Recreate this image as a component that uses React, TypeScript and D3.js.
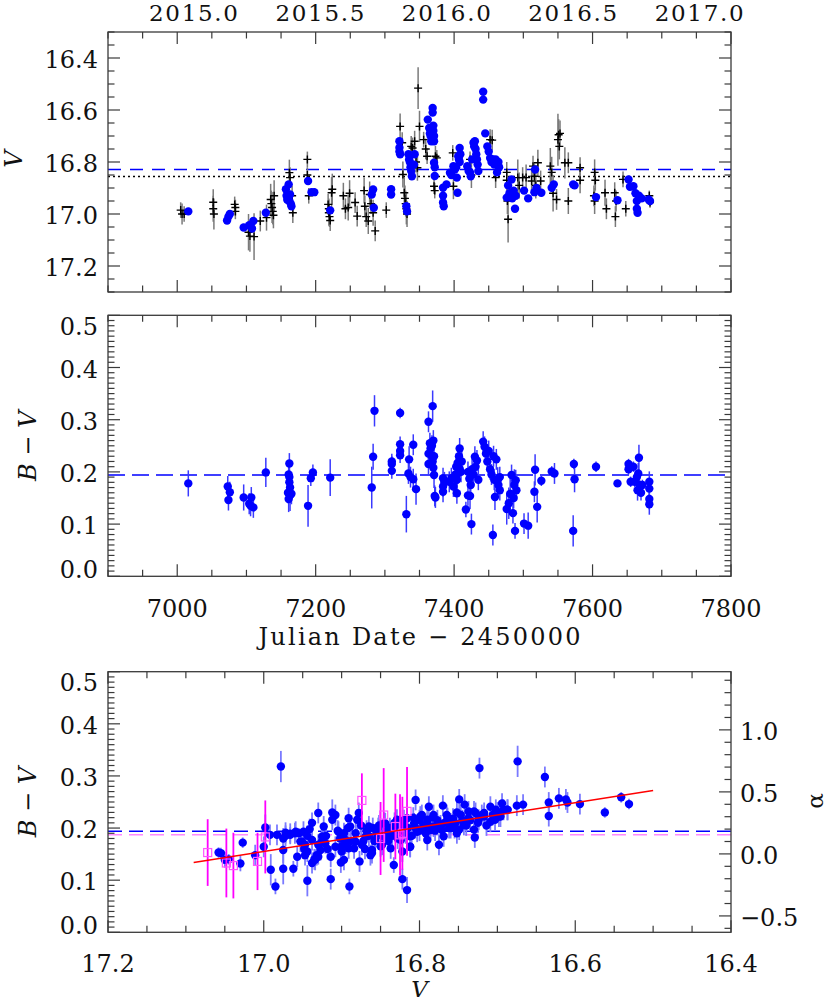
import React from "react";
import * as d3 from "d3";

// ---------------- data ----------------
// ground-based V photometry: [JD-2450000, V, err]
const groundV: [number, number, number][] = [
  [7005, 16.985, 0.03], [7007, 17.0, 0.04], [7010, 17.0, 0.03],
  [7052, 16.955, 0.05], [7052, 16.98, 0.05], [7053, 17.0, 0.06],
  [7083, 16.963, 0.03], [7084, 16.975, 0.03], [7084, 16.99, 0.03],
  [7103, 17.07, 0.07], [7105, 17.085, 0.06], [7111, 17.087, 0.09],
  [7120, 17.027, 0.04], [7129, 17.014, 0.05], [7135, 16.944, 0.06],
  [7136, 16.96, 0.05], [7137, 16.975, 0.06], [7138, 16.99, 0.05],
  [7139, 17.005, 0.05], [7140, 16.93, 0.06], [7162, 16.841, 0.05],
  [7163, 16.86, 0.04], [7166, 16.93, 0.04], [7167, 16.995, 0.04],
  [7188, 16.79, 0.03], [7188, 16.85, 0.03], [7190, 16.93, 0.03],
  [7218, 16.963, 0.04], [7219, 16.98, 0.04], [7219, 16.995, 0.05],
  [7220, 17.01, 0.04], [7221, 17.025, 0.04], [7223, 16.918, 0.06],
  [7224, 16.905, 0.06], [7240, 16.93, 0.05], [7243, 16.98, 0.04],
  [7247, 16.975, 0.05], [7249, 16.92, 0.05], [7257, 16.956, 0.04],
  [7260, 17.008, 0.04], [7270, 16.91, 0.05], [7271, 16.97, 0.04],
  [7273, 17.01, 0.04], [7276, 17.027, 0.05], [7278, 16.925, 0.05],
  [7280, 16.96, 0.04], [7283, 16.995, 0.05], [7286, 17.065, 0.04],
  [7302, 16.985, 0.03], [7322, 16.663, 0.05], [7325, 16.726, 0.04],
  [7326, 16.848, 0.05], [7328, 16.918, 0.06], [7329, 16.94, 0.05],
  [7330, 16.96, 0.05], [7331, 16.98, 0.06], [7332, 17.0, 0.05],
  [7338, 16.74, 0.04], [7340, 16.746, 0.04], [7343, 16.72, 0.04],
  [7345, 16.8, 0.04], [7347, 16.822, 0.05], [7348, 16.516, 0.08],
  [7350, 16.663, 0.06], [7356, 16.714, 0.03], [7359, 16.75, 0.04],
  [7361, 16.778, 0.03], [7371, 16.893, 0.03], [7372, 16.91, 0.03],
  [7373, 16.778, 0.04], [7375, 16.784, 0.03], [7398, 16.765, 0.03],
  [7399, 16.893, 0.05], [7423, 16.79, 0.03], [7425, 16.85, 0.05],
  [7452, 16.714, 0.04], [7455, 16.716, 0.04], [7460, 16.86, 0.04],
  [7476, 16.84, 0.04], [7476, 16.87, 0.04], [7477, 16.95, 0.05],
  [7478, 17.02, 0.09], [7492, 16.86, 0.07], [7494, 16.89, 0.05],
  [7499, 16.86, 0.04], [7504, 16.86, 0.05], [7512, 16.873, 0.05],
  [7514, 16.816, 0.04], [7516, 16.855, 0.05], [7518, 16.89, 0.05],
  [7521, 16.803, 0.05], [7525, 16.873, 0.04], [7539, 16.816, 0.07],
  [7541, 16.84, 0.06], [7543, 16.92, 0.07], [7548, 16.944, 0.04],
  [7550, 16.714, 0.1], [7551, 16.695, 0.06], [7552, 16.74, 0.05],
  [7553, 16.69, 0.05], [7560, 16.803, 0.06], [7565, 16.803, 0.04],
  [7565, 16.95, 0.05], [7582, 16.822, 0.04], [7582, 16.87, 0.05],
  [7603, 16.84, 0.05], [7604, 16.87, 0.04], [7602, 16.93, 0.04],
  [7603, 16.95, 0.05], [7618, 16.918, 0.05], [7620, 16.98, 0.04],
  [7632, 16.918, 0.04], [7634, 16.95, 0.04], [7633, 17.01, 0.04],
  [7644, 16.867, 0.03], [7648, 16.98, 0.03], [7682, 16.93, 0.02],
  [7683, 16.956, 0.02],
];

// blue V photometry: [JD-2450000, V]
const blueV: [number, number][] = [
  [7016, 16.99], [7072, 17.025], [7074, 17.01], [7076, 17.0], [7096, 17.052],
  [7104, 17.043], [7108, 17.056], [7110, 17.027], [7128, 16.995],
  [7157, 16.905], [7158, 16.93], [7159, 16.945], [7161, 16.886], [7162, 16.95],
  [7163, 16.925], [7165, 16.97], [7164, 16.96], [7189, 16.873], [7194, 16.916],
  [7198, 16.916], [7221, 16.986], [7281, 16.925], [7283, 16.906], [7284, 16.976],
  [7309, 16.905], [7309, 16.925], [7321, 16.72], [7321, 16.745], [7321, 16.76],
  [7322, 16.77], [7331, 16.97], [7332, 16.99], [7334, 16.77], [7335, 16.79],
  [7336, 16.8], [7337, 16.82], [7338, 16.835], [7339, 16.855], [7342, 16.81],
  [7343, 16.77], [7362, 16.637], [7364, 16.669], [7365, 16.69], [7366, 16.7],
  [7367, 16.72], [7369, 16.592], [7369, 16.61], [7370, 16.66], [7370, 16.68],
  [7371, 16.7], [7371, 16.72], [7371, 16.803], [7372, 16.82], [7372, 16.854],
  [7384, 16.899], [7384, 16.93], [7384, 16.956], [7385, 16.97], [7389, 16.886],
  [7394, 16.841], [7396, 16.85], [7399, 16.816], [7401, 16.829], [7403, 16.82],
  [7404, 16.86], [7405, 16.918], [7406, 16.778], [7407, 16.79], [7408, 16.746],
  [7409, 16.77], [7408, 16.8], [7419, 16.816], [7421, 16.835], [7423, 16.84],
  [7424, 16.855], [7426, 16.79], [7428, 16.726], [7429, 16.74], [7430, 16.72],
  [7431, 16.75], [7432, 16.77], [7433, 16.79], [7434, 16.81], [7435, 16.835],
  [7442, 16.53], [7442, 16.56], [7445, 16.69], [7448, 16.74], [7450, 16.76],
  [7452, 16.785], [7454, 16.8], [7456, 16.79], [7458, 16.81], [7460, 16.79],
  [7462, 16.84], [7464, 16.8], [7465, 16.82], [7476, 16.937], [7478, 16.89],
  [7480, 16.92], [7483, 16.867], [7484, 16.94], [7486, 16.91], [7488, 16.98],
  [7489, 16.93], [7501, 16.91], [7507, 16.94], [7516, 16.916], [7517, 16.829],
  [7519, 16.9], [7526, 16.918], [7541, 16.899], [7544, 16.886], [7572, 16.886],
  [7574, 16.89], [7605, 16.935], [7636, 16.947], [7652, 16.867], [7654, 16.895],
  [7659, 16.893], [7662, 16.92], [7664, 16.95], [7664, 16.98], [7665, 16.995],
  [7667, 16.93], [7671, 16.94], [7681, 16.944], [7683, 16.95],
];

// B-V colour vs time: [JD-2450000, B-V, err]
const colourJD: [number, number, number][] = [
  [7016, 0.178, 0.025], [7073, 0.172, 0.02], [7076, 0.161, 0.02], [7074, 0.146, 0.02],
  [7096, 0.151, 0.025], [7104, 0.139, 0.02], [7107, 0.151, 0.02], [7110, 0.132, 0.02],
  [7106, 0.135, 0.02], [7128, 0.199, 0.028], [7162, 0.216, 0.02], [7161, 0.195, 0.02],
  [7162, 0.19, 0.02], [7162, 0.18, 0.02], [7160, 0.16, 0.02], [7161, 0.148, 0.025],
  [7163, 0.155, 0.03], [7165, 0.158, 0.02], [7163, 0.17, 0.02], [7189, 0.135, 0.04],
  [7193, 0.188, 0.015], [7196, 0.199, 0.015], [7221, 0.189, 0.035], [7281, 0.17, 0.04],
  [7283, 0.229, 0.025], [7285, 0.317, 0.03], [7310, 0.22, 0.015], [7310, 0.215, 0.015],
  [7310, 0.202, 0.015], [7322, 0.313, 0.01], [7322, 0.253, 0.015], [7322, 0.24, 0.015],
  [7322, 0.232, 0.015], [7331, 0.119, 0.035], [7335, 0.224, 0.025], [7334, 0.197, 0.02],
  [7337, 0.19, 0.02], [7341, 0.252, 0.02], [7341, 0.186, 0.02], [7345, 0.167, 0.03],
  [7363, 0.296, 0.02], [7369, 0.326, 0.03], [7365, 0.255, 0.02], [7366, 0.245, 0.02],
  [7367, 0.232, 0.02], [7369, 0.22, 0.02], [7370, 0.208, 0.02], [7363, 0.235, 0.02],
  [7363, 0.215, 0.02], [7371, 0.194, 0.025], [7370, 0.26, 0.02], [7368, 0.25, 0.02],
  [7371, 0.23, 0.02], [7372, 0.154, 0.02], [7373, 0.151, 0.02], [7384, 0.188, 0.02],
  [7384, 0.172, 0.02], [7384, 0.162, 0.02], [7386, 0.18, 0.02], [7393, 0.181, 0.02],
  [7396, 0.188, 0.02], [7399, 0.172, 0.02], [7402, 0.195, 0.02], [7408, 0.245, 0.02],
  [7407, 0.23, 0.02], [7405, 0.217, 0.02], [7408, 0.206, 0.02], [7406, 0.198, 0.02],
  [7404, 0.185, 0.02], [7404, 0.159, 0.02], [7410, 0.2, 0.02], [7411, 0.22, 0.02],
  [7403, 0.21, 0.02], [7417, 0.128, 0.015], [7420, 0.155, 0.02], [7425, 0.1, 0.02],
  [7423, 0.154, 0.025], [7420, 0.2, 0.02], [7422, 0.187, 0.02], [7424, 0.175, 0.02],
  [7430, 0.229, 0.02], [7431, 0.21, 0.02], [7433, 0.222, 0.02], [7435, 0.185, 0.02],
  [7428, 0.195, 0.02], [7426, 0.205, 0.02], [7442, 0.258, 0.02], [7444, 0.248, 0.02],
  [7446, 0.235, 0.02], [7448, 0.22, 0.02], [7450, 0.24, 0.02], [7452, 0.205, 0.02],
  [7454, 0.195, 0.02], [7461, 0.224, 0.02], [7459, 0.152, 0.025], [7457, 0.23, 0.02],
  [7458, 0.185, 0.02], [7456, 0.079, 0.02], [7463, 0.184, 0.025], [7466, 0.19, 0.02],
  [7466, 0.165, 0.02], [7464, 0.175, 0.02], [7476, 0.129, 0.03], [7479, 0.14, 0.03],
  [7481, 0.158, 0.03], [7485, 0.121, 0.02], [7483, 0.194, 0.02], [7488, 0.087, 0.015],
  [7487, 0.175, 0.03], [7489, 0.184, 0.02], [7490, 0.165, 0.02], [7486, 0.15, 0.02],
  [7501, 0.101, 0.02], [7507, 0.097, 0.025], [7516, 0.162, 0.02], [7517, 0.204, 0.03],
  [7520, 0.133, 0.03], [7526, 0.183, 0.01], [7541, 0.201, 0.01], [7545, 0.197, 0.02],
  [7572, 0.087, 0.03], [7573, 0.215, 0.01], [7574, 0.186, 0.025], [7605, 0.21, 0.01],
  [7636, 0.178, 0.005], [7652, 0.215, 0.01], [7652, 0.205, 0.01], [7655, 0.21, 0.01],
  [7659, 0.21, 0.01], [7667, 0.227, 0.025], [7666, 0.197, 0.02], [7655, 0.181, 0.01],
  [7661, 0.181, 0.01], [7665, 0.165, 0.02], [7668, 0.175, 0.01], [7670, 0.16, 0.015],
  [7672, 0.175, 0.01], [7682, 0.181, 0.02], [7682, 0.168, 0.015], [7682, 0.148, 0.02],
  [7682, 0.138, 0.02], [7664, 0.19, 0.01],
];

// colour-magnitude: [V, B-V, err]
const colourMag: [number, number, number][] = [
  [17.058, 0.153, 0.01], [17.055, 0.152, 0.01], [17.05, 0.139, 0.015], [17.045, 0.14, 0.01],
  [17.03, 0.132, 0.015], [17.027, 0.172, 0.01], [17.011, 0.148, 0.02], [16.998, 0.201, 0.025],
  [17.0, 0.164, 0.02], [16.991, 0.12, 0.03], [16.985, 0.088, 0.015], [16.978, 0.318, 0.03],
  [16.975, 0.18, 0.02], [16.975, 0.158, 0.025], [16.975, 0.122, 0.03], [16.972, 0.185, 0.02],
  [16.966, 0.187, 0.015], [16.962, 0.122, 0.015], [16.96, 0.19, 0.02], [16.955, 0.19, 0.01],
  [16.951, 0.174, 0.02], [16.948, 0.16, 0.02], [16.947, 0.148, 0.02], [16.944, 0.099, 0.03],
  [16.944, 0.185, 0.02], [16.941, 0.198, 0.02], [16.938, 0.21, 0.02], [16.938, 0.133, 0.02],
  [16.935, 0.14, 0.02], [16.93, 0.229, 0.02], [16.93, 0.168, 0.02], [16.93, 0.145, 0.015],
  [16.925, 0.175, 0.02], [16.923, 0.203, 0.02], [16.92, 0.185, 0.02], [16.918, 0.16, 0.02],
  [16.914, 0.102, 0.02], [16.912, 0.23, 0.025], [16.908, 0.225, 0.02], [16.905, 0.195, 0.02],
  [16.902, 0.18, 0.02], [16.9, 0.165, 0.02], [16.901, 0.134, 0.02], [16.897, 0.19, 0.02],
  [16.895, 0.17, 0.02], [16.892, 0.2, 0.02], [16.891, 0.219, 0.02], [16.89, 0.088, 0.015],
  [16.888, 0.175, 0.02], [16.884, 0.161, 0.02], [16.882, 0.19, 0.02], [16.878, 0.229, 0.02],
  [16.877, 0.136, 0.02], [16.875, 0.205, 0.02], [16.872, 0.175, 0.02], [16.87, 0.16, 0.02],
  [16.868, 0.195, 0.02], [16.865, 0.185, 0.02], [16.861, 0.152, 0.02], [16.86, 0.2, 0.02],
  [16.858, 0.175, 0.02], [16.855, 0.19, 0.02], [16.852, 0.205, 0.02], [16.85, 0.165, 0.02],
  [16.848, 0.185, 0.02], [16.845, 0.21, 0.02], [16.842, 0.195, 0.02], [16.84, 0.175, 0.02],
  [16.838, 0.2, 0.02], [16.835, 0.185, 0.02], [16.833, 0.129, 0.015], [16.832, 0.21, 0.02],
  [16.83, 0.195, 0.02], [16.828, 0.18, 0.02], [16.825, 0.205, 0.02], [16.822, 0.102, 0.02],
  [16.822, 0.155, 0.02], [16.82, 0.215, 0.02], [16.818, 0.19, 0.02], [16.816, 0.081, 0.025],
  [16.815, 0.2, 0.02], [16.812, 0.164, 0.02], [16.81, 0.185, 0.02], [16.808, 0.22, 0.02],
  [16.805, 0.254, 0.02], [16.805, 0.2, 0.02], [16.8, 0.195, 0.02], [16.8, 0.215, 0.02],
  [16.797, 0.225, 0.02], [16.795, 0.205, 0.02], [16.792, 0.19, 0.02], [16.79, 0.21, 0.02],
  [16.788, 0.241, 0.02], [16.786, 0.2, 0.02], [16.783, 0.22, 0.02], [16.782, 0.203, 0.02],
  [16.78, 0.195, 0.02], [16.777, 0.215, 0.02], [16.775, 0.168, 0.02], [16.773, 0.205, 0.02],
  [16.77, 0.243, 0.02], [16.768, 0.21, 0.02], [16.765, 0.225, 0.02], [16.762, 0.2, 0.02],
  [16.76, 0.209, 0.02], [16.757, 0.218, 0.02], [16.755, 0.2, 0.02], [16.752, 0.23, 0.02],
  [16.749, 0.255, 0.02], [16.749, 0.197, 0.02], [16.745, 0.215, 0.02], [16.742, 0.245, 0.02],
  [16.74, 0.205, 0.02], [16.737, 0.232, 0.02], [16.735, 0.215, 0.02], [16.73, 0.197, 0.02],
  [16.729, 0.182, 0.02], [16.728, 0.229, 0.02], [16.725, 0.21, 0.02], [16.723, 0.315, 0.02],
  [16.72, 0.225, 0.02], [16.717, 0.222, 0.02], [16.714, 0.205, 0.02], [16.709, 0.241, 0.02],
  [16.706, 0.225, 0.02], [16.703, 0.216, 0.02], [16.7, 0.23, 0.02], [16.696, 0.222, 0.02],
  [16.694, 0.247, 0.02], [16.692, 0.235, 0.02], [16.687, 0.235, 0.02], [16.674, 0.328, 0.03],
  [16.675, 0.243, 0.02], [16.667, 0.245, 0.02], [16.639, 0.298, 0.02], [16.634, 0.249, 0.02],
  [16.634, 0.223, 0.02], [16.621, 0.257, 0.02], [16.612, 0.255, 0.02], [16.61, 0.249, 0.02],
  [16.594, 0.246, 0.02], [16.562, 0.23, 0.01], [16.541, 0.259, 0.01], [16.531, 0.246, 0.01],
  [16.992, 0.187, 0.02], [16.983, 0.187, 0.02], [16.972, 0.191, 0.02], [16.966, 0.189, 0.02],
  [16.959, 0.193, 0.02], [16.953, 0.174, 0.02], [16.949, 0.193, 0.02], [16.947, 0.168, 0.02],
  [16.944, 0.155, 0.02], [16.938, 0.177, 0.02], [16.934, 0.139, 0.02], [16.927, 0.158, 0.02],
  [16.925, 0.184, 0.02], [16.921, 0.171, 0.02], [16.914, 0.145, 0.02], [16.912, 0.216, 0.02],
  [16.908, 0.164, 0.02], [16.904, 0.193, 0.02], [16.9, 0.155, 0.02], [16.895, 0.177, 0.02],
  [16.891, 0.161, 0.02], [16.889, 0.203, 0.02], [16.882, 0.174, 0.02], [16.88, 0.216, 0.02],
  [16.874, 0.168, 0.02], [16.869, 0.184, 0.02], [16.865, 0.203, 0.02], [16.861, 0.158, 0.02],
  [16.857, 0.177, 0.02], [16.853, 0.2, 0.02], [16.848, 0.168, 0.02], [16.844, 0.209, 0.02],
  [16.84, 0.184, 0.02], [16.835, 0.196, 0.02], [16.829, 0.216, 0.02], [16.824, 0.177, 0.02],
  [16.82, 0.203, 0.02], [16.816, 0.219, 0.02], [16.812, 0.184, 0.02], [16.807, 0.209, 0.02],
  [16.803, 0.193, 0.02], [16.799, 0.222, 0.02], [16.794, 0.203, 0.02], [16.79, 0.216, 0.02],
  [16.786, 0.196, 0.02], [16.782, 0.225, 0.02], [16.777, 0.206, 0.02], [16.771, 0.196, 0.02],
  [16.764, 0.219, 0.02], [16.76, 0.2, 0.02], [16.754, 0.209, 0.02], [16.747, 0.225, 0.02],
  [16.743, 0.206, 0.02], [16.737, 0.219, 0.02], [16.73, 0.232, 0.02], [16.724, 0.216, 0.02],
  [16.717, 0.229, 0.02], [16.709, 0.212, 0.02], [16.702, 0.235, 0.02], [16.698, 0.222, 0.02],
  [16.687, 0.235, 0.02], [16.957, 0.145, 0.02], [16.932, 0.148, 0.02], [16.897, 0.139, 0.02],
  [16.863, 0.148, 0.02], [16.837, 0.161, 0.02], [16.812, 0.164, 0.02], [16.79, 0.177, 0.02],
  [16.769, 0.184, 0.02], [16.752, 0.19, 0.02],
];

// second colour-magnitude set (magenta squares): [V, B-V, err]
const colourMagAlt: [number, number, number][] = [
  [17.072, 0.153, 0.064], [17.048, 0.133, 0.066], [17.039, 0.128, 0.063],
  [17.008, 0.136, 0.055], [16.998, 0.183, 0.07], [16.874, 0.253, 0.052],
  [16.85, 0.18, 0.07], [16.846, 0.225, 0.09], [16.831, 0.203, 0.063],
  [16.825, 0.187, 0.078], [16.822, 0.19, 0.07], [16.816, 0.232, 0.085],
];

// linear fit end points
const fitV = [17.09, 16.5];
const fitBV = [0.134, 0.272];

// reference levels
const meanVBlue = 16.829;
const meanVGround = 16.856;
const meanBV = 0.194;
const meanBVAlt = 0.187;

// tick values / labels
const yearValues = [2015.0, 2015.5, 2016.0, 2016.5, 2017.0];
const yearLabels = ["2015.0", "2015.5", "2016.0", "2016.5", "2017.0"];
const jdMajor = [7000, 7200, 7400, 7600, 7800];
const vTopMajor = [16.4, 16.6, 16.8, 17.0, 17.2];
const bvMajor = [0.0, 0.1, 0.2, 0.3, 0.4, 0.5];
const vBotMajor = [17.2, 17.0, 16.8, 16.6, 16.4];
const alphaMajor = [-0.5, 0.0, 0.5, 1.0];

// ---------------- layout ----------------
const W = 830, H = 1004;
const L = 108, R = 731;
const P1 = { top: 32, bottom: 292 };
const P2 = { top: 315.3, bottom: 576.3 };
const P3 = { top: 671.7, bottom: 932.3 };
const FONT = "'DejaVu Serif', serif";
const AX = "#3a3a3a";
const MAJ = 12, MIN = 6.5;

const xJD = d3.scaleLinear().domain([6900, 7800]).range([L, R]);
const yV = d3.scaleLinear().domain([16.3, 17.3]).range([P1.top, P1.bottom]);
const yBV2 = d3.scaleLinear().domain([0, 0.5]).range([P2.bottom, P2.top]);
const xV3 = d3.scaleLinear().domain([17.2, 16.4]).range([L, R]);
const yBV3 = d3.scaleLinear().domain([0, 0.5]).range([P3.bottom, P3.top]);
const yAlpha = d3.scaleLinear().domain([-0.632, 1.469]).range([P3.bottom, P3.top]);

const jdMinor = d3.range(6900, 7801, 50);
const vTopMinor = d3.range(16.3, 17.301, 0.05);
const bvMinor = d3.range(0, 0.5001, 0.01);
const vBotMinor = d3.range(16.4, 17.2001, 0.05);
const alphaMinor = d3.range(-0.6, 1.41, 0.1);

const fmt1 = d3.format(".1f");
const yearToJD = (y: number) => 2457023.5 + (y - 2015) * 365.25 - 2450000;

type Sc = d3.ScaleLinear<number, number>;

function HTicks({ scale, major, minor, y0, y1 }: { scale: Sc; major: number[]; minor: number[]; y0: number; y1: number }) {
  const items: JSX.Element[] = [];
  const isMajor = (v: number) => major.some((m) => Math.abs(m - v) < 1e-6);
  minor.forEach((v, i) => {
    const x = scale(v);
    if (x < L - 0.5 || x > R + 0.5) return;
    const len = isMajor(v) ? MAJ : MIN;
    items.push(<line key={"t" + i} x1={x} x2={x} y1={y0} y2={y0 + len} stroke={AX} strokeWidth={1.2} />);
    items.push(<line key={"b" + i} x1={x} x2={x} y1={y1} y2={y1 - len} stroke={AX} strokeWidth={1.2} />);
  });
  return <g>{items}</g>;
}

function VTicks({ scale, major, minor, x, dir, y0, y1 }: { scale: Sc; major: number[]; minor: number[]; x: number; dir: number; y0: number; y1: number }) {
  const items: JSX.Element[] = [];
  const isMajor = (v: number) => major.some((m) => Math.abs(m - v) < 1e-6);
  minor.forEach((v, i) => {
    const y = scale(v);
    if (y < y0 - 0.5 || y > y1 + 0.5) return;
    const len = isMajor(v) ? MAJ : MIN;
    items.push(<line key={i} x1={x} x2={x + dir * len} y1={y} y2={y} stroke={AX} strokeWidth={1.2} />);
  });
  return <g>{items}</g>;
}

function LeftLabels({ scale, values, top, bottom, fmt }: { scale: Sc; values: number[]; top: number; bottom: number; fmt: (v: number) => string }) {
  return (
    <g>
      {values.map((v) => {
        const c = Math.max(top + 10.5, Math.min(bottom - 7.5, scale(v) + 1.5));
        return (
          <text key={v} x={98} y={c + 8.7} textAnchor="end" fontFamily={FONT} fontSize={24} fill="#111">
            {fmt(v)}
          </text>
        );
      })}
    </g>
  );
}

function BottomLabels({ scale, values, y, fmt }: { scale: Sc; values: number[]; y: number; fmt: (v: number) => string }) {
  return (
    <g>
      {values.map((v) => (
        <text key={v} x={scale(v)} y={y} textAnchor="middle" fontFamily={FONT} fontSize={24} fill="#111">
          {fmt(v)}
        </text>
      ))}
    </g>
  );
}

export default function App() {
  return (
    <svg width={W} height={H} style={{ position: "absolute", left: 0, top: 0, background: "#fff" }}>
      <rect x={0} y={0} width={W} height={H} fill="#fff" />

      {/* ===================== panel 1: V light curve ===================== */}
      <g>
        <line x1={L} x2={R} y1={yV(meanVBlue)} y2={yV(meanVBlue)} stroke="#0000ff" strokeWidth={1.5} strokeDasharray="13,9" />
        <line x1={L} x2={R} y1={yV(meanVGround)} y2={yV(meanVGround)} stroke="#000" strokeWidth={1.5} strokeDasharray="2,3" />
        {groundV.map((d, i) => (
          <line key={"ge" + i} x1={xJD(d[0])} x2={xJD(d[0])} y1={yV(d[1] - d[2])} y2={yV(d[1] + d[2])} stroke="#7a7a7a" strokeWidth={1.5} />
        ))}
        {groundV.map((d, i) => {
          const x = xJD(d[0]), y = yV(d[1]);
          return (
            <path key={"gc" + i} d={`M${x - 4},${y}H${x + 4}M${x},${y - 4}V${y + 4}`} stroke="#000" strokeWidth={1.4} fill="none" />
          );
        })}
        {blueV.map((d, i) => (
          <circle key={"bv" + i} cx={xJD(d[0])} cy={yV(d[1])} r={4.2} fill="#0000ff" />
        ))}
        <HTicks scale={xJD} major={jdMajor} minor={jdMinor} y0={P1.top} y1={P1.bottom} />
        <VTicks scale={yV} major={vTopMajor} minor={vTopMinor} x={L} dir={1} y0={P1.top} y1={P1.bottom} />
        <VTicks scale={yV} major={vTopMajor} minor={vTopMinor} x={R} dir={-1} y0={P1.top} y1={P1.bottom} />
        <rect x={L} y={P1.top} width={R - L} height={P1.bottom - P1.top} fill="none" stroke={AX} strokeWidth={1.3} />
        <LeftLabels scale={yV} values={vTopMajor} top={P1.top - 20} bottom={P1.bottom + 20} fmt={fmt1} />
        {yearValues.map((y, i) => (
          <text key={"yr" + i} x={xJD(yearToJD(y))} y={21} textAnchor="middle" fontFamily={FONT} fontSize={23} textLength={89} lengthAdjust="spacing" fill="#111">
            {yearLabels[i]}
          </text>
        ))}
        <text transform={`translate(22,${(P1.top + P1.bottom) / 2 - 3}) rotate(-90)`} textAnchor="middle" fontFamily={FONT} fontStyle="italic" fontSize={24} fill="#111">
          V
        </text>
      </g>

      {/* ===================== panel 2: B-V vs time ===================== */}
      <g>
        <line x1={L} x2={R} y1={yBV2(meanBV)} y2={yBV2(meanBV)} stroke="#0000ff" strokeWidth={1.5} strokeDasharray="17,7" />
        {colourJD.map((d, i) => (
          <line key={"ce" + i} x1={xJD(d[0])} x2={xJD(d[0])} y1={yBV2(d[1] - d[2])} y2={yBV2(d[1] + d[2])} stroke="#3a3aff" strokeWidth={1.5} />
        ))}
        {colourJD.map((d, i) => (
          <circle key={"cd" + i} cx={xJD(d[0])} cy={yBV2(d[1])} r={4.2} fill="#0000ff" />
        ))}
        <HTicks scale={xJD} major={jdMajor} minor={jdMinor} y0={P2.top} y1={P2.bottom} />
        <VTicks scale={yBV2} major={bvMajor} minor={bvMinor} x={L} dir={1} y0={P2.top} y1={P2.bottom} />
        <VTicks scale={yBV2} major={bvMajor} minor={bvMinor} x={R} dir={-1} y0={P2.top} y1={P2.bottom} />
        <rect x={L} y={P2.top} width={R - L} height={P2.bottom - P2.top} fill="none" stroke={AX} strokeWidth={1.3} />
        <LeftLabels scale={yBV2} values={bvMajor} top={P2.top} bottom={P2.bottom} fmt={fmt1} />
        <BottomLabels scale={xJD} values={jdMajor} y={P2.bottom + 40.5} fmt={(v) => String(v)} />
        <text x={(L + R) / 2} y={645} textAnchor="middle" fontFamily={FONT} fontSize={24} textLength={322} lengthAdjust="spacing" fill="#111">
          Julian Date − 2450000
        </text>
        <text transform={`translate(36,${(P2.top + P2.bottom) / 2}) rotate(-90)`} textAnchor="middle" fontFamily={FONT} fontSize={24} fill="#111">
          <tspan fontStyle="italic">B</tspan> − <tspan fontStyle="italic">V</tspan>
        </text>
      </g>

      {/* ===================== panel 3: colour-magnitude ===================== */}
      <g>
        <line x1={L} x2={R} y1={yBV3(meanBV)} y2={yBV3(meanBV)} stroke="#0000ff" strokeWidth={1.5} strokeDasharray="14,7" />
        <line x1={L} x2={R} y1={yBV3(meanBVAlt)} y2={yBV3(meanBVAlt)} stroke="#ff88ff" strokeWidth={1.5} strokeDasharray="14,7" />
        {colourMag.map((d, i) => (
          <line key={"me" + i} x1={xV3(d[0])} x2={xV3(d[0])} y1={yBV3(d[1] - d[2])} y2={yBV3(d[1] + d[2])} stroke="#7a7aff" strokeWidth={1.8} />
        ))}
        {colourMag.map((d, i) => (
          <circle key={"md" + i} cx={xV3(d[0])} cy={yBV3(d[1])} r={4.2} fill="#0000ff" />
        ))}
        {colourMagAlt.map((d, i) => (
          <line key={"ae" + i} x1={xV3(d[0])} x2={xV3(d[0])} y1={yBV3(d[1] - d[2])} y2={yBV3(d[1] + d[2])} stroke="#ff00ff" strokeWidth={1.8} />
        ))}
        {colourMagAlt.map((d, i) => (
          <rect key={"as" + i} x={xV3(d[0]) - 4} y={yBV3(d[1]) - 4} width={8} height={8} fill="none" stroke="#ff55ff" strokeWidth={1.2} />
        ))}
        <line x1={xV3(fitV[0])} x2={xV3(fitV[1])} y1={yBV3(fitBV[0])} y2={yBV3(fitBV[1])} stroke="#ff0000" strokeWidth={1.6} />
        <HTicks scale={xV3} major={vBotMajor} minor={vBotMinor} y0={P3.top} y1={P3.bottom} />
        <VTicks scale={yBV3} major={bvMajor} minor={bvMinor} x={L} dir={1} y0={P3.top} y1={P3.bottom} />
        <VTicks scale={yAlpha} major={alphaMajor} minor={alphaMinor} x={R} dir={-1} y0={P3.top} y1={P3.bottom} />
        <rect x={L} y={P3.top} width={R - L} height={P3.bottom - P3.top} fill="none" stroke={AX} strokeWidth={1.3} />
        <LeftLabels scale={yBV3} values={bvMajor} top={P3.top} bottom={P3.bottom} fmt={fmt1} />
        <BottomLabels scale={xV3} values={vBotMajor} y={P3.bottom + 39.5} fmt={fmt1} />
        {alphaMajor.map((v) => (
          <text key={"al" + v} x={740} y={yAlpha(v) + 10} textAnchor="start" fontFamily={FONT} fontSize={24} fill="#111">
            {fmt1(v)}
          </text>
        ))}
        <text x={(L + R) / 2} y={997} textAnchor="middle" fontFamily={FONT} fontStyle="italic" fontSize={23} fill="#111">
          V
        </text>
        <text transform={`translate(36,${(P3.top + P3.bottom) / 2}) rotate(-90)`} textAnchor="middle" fontFamily={FONT} fontSize={24} fill="#111">
          <tspan fontStyle="italic">B</tspan> − <tspan fontStyle="italic">V</tspan>
        </text>
        <text transform={`translate(823,${(P3.top + P3.bottom) / 2 - 1}) rotate(-90)`} textAnchor="middle" fontFamily={FONT} fontSize={23} fill="#111">
          α
        </text>
      </g>
    </svg>
  );
}
